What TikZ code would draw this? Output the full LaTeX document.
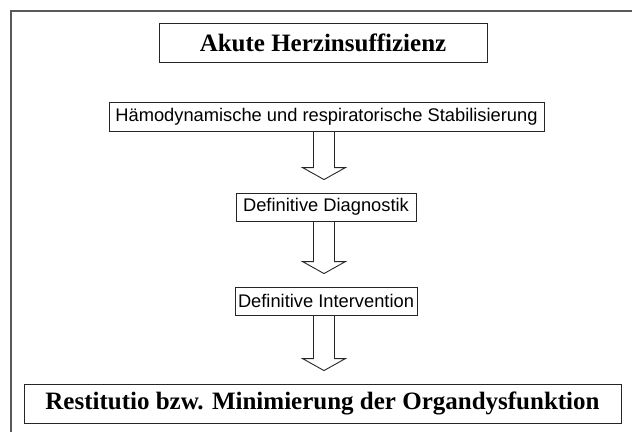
\documentclass[tikz,border=0pt]{standalone}
\usepackage{fontspec}
\setmainfont{Liberation Serif}
\setsansfont{Liberation Sans}
\usetikzlibrary{calc}
\tikzset{
  framebox/.style={draw=black!85, line width=0.9pt, inner sep=0pt, align=center},
  titlebox/.style={framebox, font=\bfseries\fontsize{25}{28}\selectfont},
  stepbox/.style={framebox, font=\sffamily\fontsize{18.3}{21}\selectfont},
  fatline/.style={draw=black!85, line width=0.9pt, line join=miter},
  outerframe/.style={draw=black!65, line width=1.4pt}
}
\newcommand\fatarrow[2]{%
  \draw[fatline] let \p1=(#1.south), \p2=(#2.north) in
    (324pt-10.5pt,\y1) -- (324pt-10.5pt,\y2+25pt) -- (324pt-21.5pt,\y2+25pt)
    -- (324pt,\y2+13pt) -- (324pt+21.5pt,\y2+25pt) -- (324pt+10.5pt,\y2+25pt)
    -- (324pt+10.5pt,\y1);}
\begin{document}
\begin{tikzpicture}[x=1pt,y=-1pt]
\useasboundingbox (0,0) rectangle (632,432);
\fill[white] (0,0) rectangle (632,432);
\draw[outerframe] (11,432) -- (11,11) -- (632,11);
\node[titlebox, minimum width=328, minimum height=39] (title) at (323,42.5) {Akute Herzinsuffizienz};
\node[stepbox, minimum width=435, minimum height=29] (stab) at (326.5,116.5) {Hämodynamische und respiratorische Stabilisierung};
\node[stepbox, minimum width=180, minimum height=28] (diag) at (326,207) {Definitive Diagnostik};
\node[stepbox, minimum width=182, minimum height=28] (interv) at (326,301) {Definitive Intervention};
\node[titlebox, minimum width=597, minimum height=39] (result) at (322.5,403.5) {Restitutio bzw. Minimierung der Organdysfunktion};
\fatarrow{stab}{diag}
\fatarrow{diag}{interv}
\fatarrow{interv}{result}
\end{tikzpicture}
\end{document}
